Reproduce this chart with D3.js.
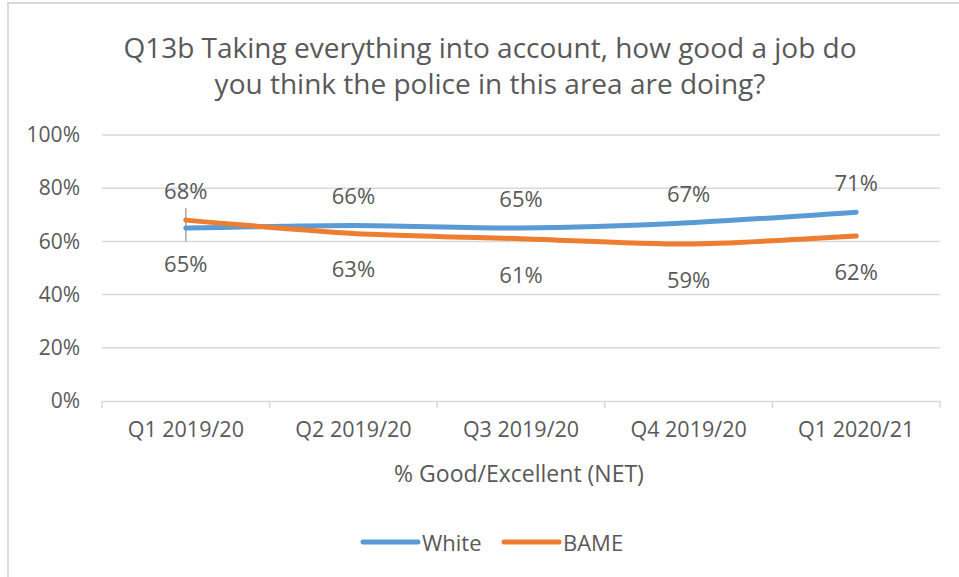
<!DOCTYPE html>
<html>
<head>
<meta charset="utf-8">
<script src="https://cdn.jsdelivr.net/npm/d3@7"></script>
<style>
  html, body { margin: 0; padding: 0; background: #ffffff; }
  svg text { font-family: "Open Sans", "Liberation Sans", sans-serif; fill: #595959; }
</style>
</head>
<body>
<div id="chart"></div>
<script>
// chart data
const categories = ["Q1 2019/20", "Q2 2019/20", "Q3 2019/20", "Q4 2019/20", "Q1 2020/21"];
const whiteValues = [65, 66, 65, 67, 71];
const bameValues = [68, 63, 61, 59, 62];
const seriesNames = ["White", "BAME"];
const seriesColors = ["#5b9bd5", "#ed7d31"];
const yTicks = [0, 20, 40, 60, 80, 100];
const titleLines = ["Q13b Taking everything into account, how good a job do",
    "you think the police in this area are doing?"];
const axisTitle = "% Good/Excellent (NET)";

const width = 959, height = 577;
const margin = { top: 135, right: 19, bottom: 176, left: 102 };
const innerW = width - margin.left - margin.right;
const innerH = height - margin.top - margin.bottom;

const svg = d3.select("#chart").append("svg")
    .attr("width", width)
    .attr("height", height);

// outer chart frame (only top/left edges show in the picture)
svg.append("rect")
    .attr("x", 8).attr("y", 3)
    .attr("width", width + 10).attr("height", height + 10)
    .attr("fill", "none")
    .attr("stroke", "#d9d9d9")
    .attr("stroke-width", 2);

// title
svg.append("g").selectAll("text")
    .data(titleLines)
    .join("text")
    .attr("x", 490)
    .attr("y", (d, i) => 47 + i * 36)
    .attr("text-anchor", "middle")
    .attr("dominant-baseline", "central")
    .style("font-size", "28px")
    .text(d => d);

const g = svg.append("g").attr("transform", `translate(${margin.left},${margin.top})`);

const x = d3.scaleBand().domain(categories).range([0, innerW]);
const y = d3.scaleLinear().domain([0, 100]).range([innerH, 0]);

// gridlines
g.append("g").selectAll("line")
    .data(yTicks.filter(d => d > 0))
    .join("line")
    .attr("x1", 0).attr("x2", innerW)
    .attr("y1", d => y(d)).attr("y2", d => y(d))
    .attr("stroke", "#d9d9d9")
    .attr("stroke-width", 1.5);

// y axis labels
const yAxis = g.append("g")
    .call(d3.axisLeft(y).tickValues(yTicks).tickFormat(d => d + "%").tickSize(0).tickPadding(22));
yAxis.select(".domain").remove();
yAxis.selectAll("text")
    .style("font-size", "21px")
    .attr("fill", "#595959");

// x axis with boundary ticks
const xAxis = g.append("g")
    .attr("transform", `translate(0,${innerH})`)
    .call(d3.axisBottom(x).tickSize(0).tickPadding(21));
xAxis.select(".domain")
    .attr("stroke", "#d9d9d9")
    .attr("stroke-width", 1.5);
xAxis.selectAll("text")
    .style("font-size", "21.5px")
    .attr("fill", "#595959");

const boundaries = categories.map(c => x(c)).concat([innerW]);
xAxis.append("g").selectAll("line")
    .data(boundaries)
    .join("line")
    .attr("x1", d => d).attr("x2", d => d)
    .attr("y1", 0).attr("y2", 7)
    .attr("stroke", "#d9d9d9")
    .attr("stroke-width", 1.5);

// axis title
svg.append("text")
    .attr("x", margin.left + innerW / 2 - 2)
    .attr("y", 473)
    .attr("text-anchor", "middle")
    .attr("dominant-baseline", "central")
    .style("font-size", "23px")
    .text(axisTitle);

const cx = c => x(c) + x.bandwidth() / 2;

// small grey marker line at the first category
g.append("line")
    .attr("x1", cx(categories[0])).attr("x2", cx(categories[0]))
    .attr("y1", y(72.5)).attr("y2", y(60))
    .attr("stroke", "#a6a6a6")
    .attr("stroke-width", 1.5);

// lines
const line = d3.line()
    .x((d, i) => cx(categories[i]))
    .y(d => y(d))
    .curve(d3.curveCardinal.tension(0.3));

const series = [whiteValues, bameValues];
g.append("g").selectAll("path")
    .data(series)
    .join("path")
    .attr("d", d => line(d))
    .attr("fill", "none")
    .attr("stroke", (d, i) => seriesColors[i])
    .attr("stroke-width", 5)
    .attr("stroke-linecap", "round")
    .attr("stroke-linejoin", "round");

// data labels: higher series above, lower below
const labels = [];
categories.forEach((c, i) => {
    const w = whiteValues[i], b = bameValues[i];
    labels.push({ c: c, v: w, above: w >= b });
    labels.push({ c: c, v: b, above: b > w });
});
g.append("g").selectAll("text")
    .data(labels)
    .join("text")
    .attr("x", d => cx(d.c))
    .attr("y", d => y(d.v) + (d.above ? -30 : 35))
    .attr("text-anchor", "middle")
    .attr("dominant-baseline", "central")
    .style("font-size", "22px")
    .text(d => d.v + "%");

// legend
const legendX = [363, 504];
const legend = svg.append("g").selectAll("g")
    .data(seriesNames)
    .join("g")
    .attr("transform", (d, i) => `translate(${legendX[i]},542)`);
legend.append("line")
    .attr("x1", 0).attr("x2", 55)
    .attr("y1", 0).attr("y2", 0)
    .attr("stroke", (d, i) => seriesColors[i])
    .attr("stroke-width", 5)
    .attr("stroke-linecap", "round");
legend.append("text")
    .attr("x", 59)
    .attr("y", 0)
    .attr("dominant-baseline", "central")
    .style("font-size", "22px")
    .text(d => d);
</script>
</body>
</html>
